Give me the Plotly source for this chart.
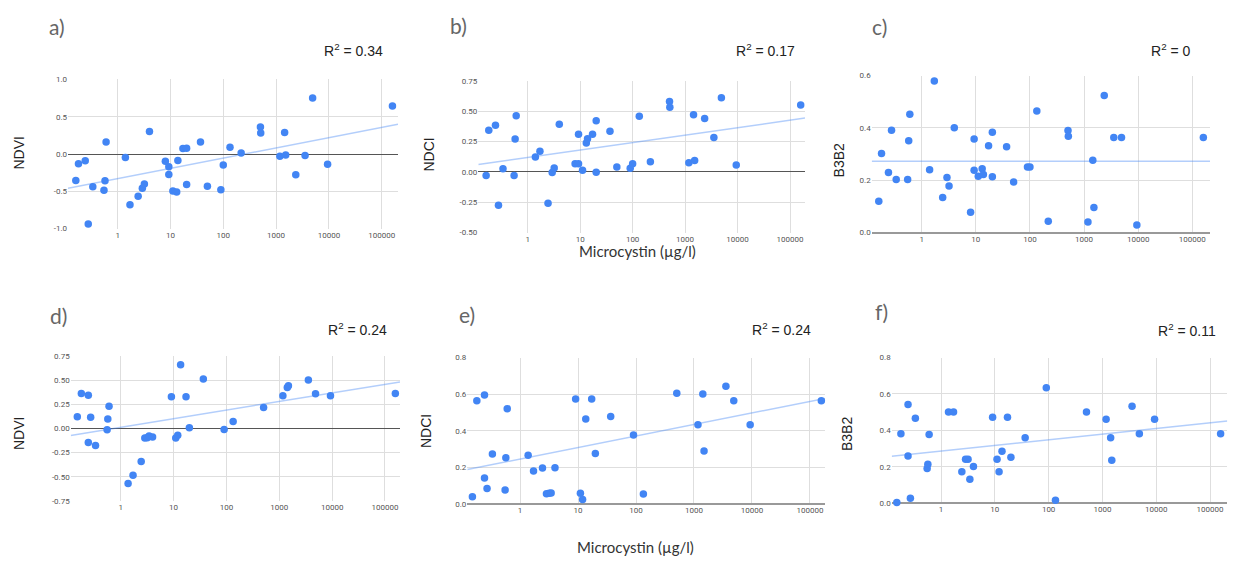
import numpy as np
import plotly.graph_objects as go

W, H = 1233, 563

# ---------------- data ----------------
microcystin_top = [0.161, 0.181, 0.243, 0.277, 0.338, 0.55, 0.575, 0.603, 1.40, 1.71,
                   2.44, 2.93, 3.2, 4.0, 8.0, 9.3, 9.3, 11.1, 13.1, 13.8,
                   17.2, 20.2, 20.2, 37, 50, 90, 100, 134, 218, 505,
                   512, 1180, 1450, 1520, 2360, 3540, 4920, 9450, 160000]
ndvi_a = [-0.354, -0.13, -0.09, -0.939, -0.437, -0.486, -0.358, 0.16, -0.046, -0.679,
          -0.565, -0.459, -0.402, 0.301, -0.095, -0.169, -0.275, -0.495, -0.508, -0.086,
          0.073, 0.077, -0.407, 0.16, -0.433, -0.477, -0.147, 0.09, 0.015, 0.363,
          0.284, -0.029, 0.288, -0.011, -0.279, -0.02, 0.75, -0.138, 0.644]
ndci_b = [-0.03, 0.344, 0.385, -0.275, 0.027, -0.03, 0.271, 0.463, 0.124, 0.17,
          -0.257, -0.005, 0.032, 0.393, 0.068, 0.068, 0.312, 0.014, 0.239, 0.274,
          0.312, 0.423, -0.003, 0.336, 0.041, 0.03, 0.068, 0.46, 0.084, 0.582,
          0.533, 0.076, 0.471, 0.095, 0.441, 0.285, 0.612, 0.057, 0.552]
b3b2_c = [0.120, 0.302, 0.230, 0.391, 0.203, 0.203, 0.351, 0.452, 0.240, 0.579,
          0.134, 0.210, 0.178, 0.401, 0.078, 0.238, 0.358, 0.215, 0.244, 0.222,
          0.332, 0.383, 0.213, 0.328, 0.193, 0.251, 0.251, 0.465, 0.043, 0.390,
          0.368, 0.040, 0.276, 0.096, 0.524, 0.363, 0.363, 0.029, 0.363]

microcystin_bottom = [0.151, 0.18, 0.244, 0.244, 0.27, 0.334, 0.553, 0.57, 0.602, 1.38,
                      1.71, 2.44, 2.86, 3.18, 3.44, 4.01, 9.1, 11.0, 12.0, 13.6,
                      17.2, 19.9, 36.6, 90.5, 134, 505, 1170, 1420, 1490, 3550,
                      4850, 9300, 157000]
ndvi_d = [0.122, 0.363, 0.343, -0.146, 0.115, -0.176, -0.014, 0.098, 0.231, -0.570,
          -0.485, -0.343, -0.098, -0.095, -0.078, -0.088, 0.329, -0.098, -0.071, 0.658,
          0.329, 0.007, 0.512, -0.010, 0.071, 0.217, 0.339, 0.424, 0.441, 0.502,
          0.360, 0.339, 0.363]
ndci_e = [0.041, 0.564, 0.596, 0.143, 0.086, 0.274, 0.077, 0.254, 0.521, 0.267,
          0.181, 0.197, 0.057, 0.059, 0.061, 0.199, 0.574, 0.059, 0.025, 0.465,
          0.574, 0.277, 0.478, 0.378, 0.055, 0.605, 0.433, 0.601, 0.290, 0.644,
          0.564, 0.433, 0.564]
b3b2_f = [0.004, 0.382, 0.542, 0.259, 0.027, 0.467, 0.191, 0.214, 0.378, 0.501,
          0.501, 0.173, 0.241, 0.241, 0.132, 0.202, 0.472, 0.241, 0.173, 0.286,
          0.472, 0.252, 0.359, 0.634, 0.016, 0.501, 0.461, 0.359, 0.236, 0.532,
          0.382, 0.461, 0.382]

panel_letters = ["a)", "b)", "c)", "d)", "e)", "f)"]
r2_labels = ["0.34", "0.17", "0", "0.24", "0.24", "0.11"]
y_titles = ["NDVI", "NDCI", "B3B2", "NDVI", "NDCI", "B3B2"]
x_title = "Microcystin (µg/l)"
x_tick_vals = [1, 10, 100, 1000, 10000, 100000]
x_tick_text = ["1", "10", "100", "1000", "10000", "100000"]
y_ticks = [
    ([-1, -0.5, 0, 0.5, 1], ["-1.0", "-0.5", "0.0", "0.5", "1.0"]),
    ([-0.5, -0.25, 0, 0.25, 0.5, 0.75], ["-0.50", "-0.25", "0.00", "0.25", "0.50", "0.75"]),
    ([0, 0.2, 0.4, 0.6], ["0.0", "0.2", "0.4", "0.6"]),
    ([-0.75, -0.5, -0.25, 0, 0.25, 0.5, 0.75], ["-0.75", "-0.50", "-0.25", "0.00", "0.25", "0.50", "0.75"]),
    ([0, 0.2, 0.4, 0.6, 0.8], ["0.0", "0.2", "0.4", "0.6", "0.8"]),
    ([0, 0.2, 0.4, 0.6, 0.8], ["0.0", "0.2", "0.4", "0.6", "0.8"]),
]
series = [
    (microcystin_top, ndvi_a), (microcystin_top, ndci_b), (microcystin_top, b3b2_c),
    (microcystin_bottom, ndvi_d), (microcystin_bottom, ndci_e), (microcystin_bottom, b3b2_f),
]

# ---------------- layout geometry (pixels) ----------------
# left, right, top, bottom of plot area; log10 x-range
geom = [
    dict(l=68, r=398, t=76.7, b=228.3, xr=[-0.941, 5.309]),
    dict(l=478.3, r=805, t=78.3, b=232.3, xr=[-0.942, 5.286]),
    dict(l=871.7, r=1210, t=72.7, b=232.3, xr=[-0.924, 5.327]),
    dict(l=70.7, r=400, t=357.7, b=505, xr=[-0.946, 5.284]),
    dict(l=467.3, r=825, t=359.3, b=508.3, xr=[-0.909, 5.259]),
    dict(l=891.7, r=1227.3, t=359.3, b=507.3, xr=[-0.916, 5.32]),
]
letter_pos = [(47, 23), (448, 22), (870, 23), (48, 317), (457, 316), (873, 313)]
r2_pos = [(385, 47), (797, 47), (1193, 47), (389, 330), (813, 330), (1218, 331)]
ytitle_pos = [(19, 152), (429, 153), (839, 159), (19, 437), (426, 434), (847, 437)]
xtitle_pos = [(637, 251), (635, 552)]

BLUE = "#4285F4"
TREND = "rgba(66,133,244,0.40)"
GRID = "#dedede"

fig = go.Figure()
annotations = []

def px(x):
    return x / W

def py(y):
    return 1 - y / H

for i, ((xs, ys), g) in enumerate(zip(series, geom)):
    n = i + 1
    xa = "x" if n == 1 else f"x{n}"
    ya = "y" if n == 1 else f"y{n}"
    xs_arr = np.array(xs, dtype=float)
    ys_arr = np.array(ys, dtype=float)
    slope, intercept = np.polyfit(np.log10(xs_arr), ys_arr, 1)
    tx = np.array([10 ** g["xr"][0], 10 ** g["xr"][1]])
    ty = intercept + slope * np.log10(tx)
    fig.add_trace(go.Scatter(x=tx, y=ty, mode="lines", xaxis=xa, yaxis=ya,
                             line=dict(color=TREND, width=1.5), hoverinfo="skip",
                             showlegend=False))
    fig.add_trace(go.Scatter(x=xs, y=ys, mode="markers", xaxis=xa, yaxis=ya,
                             marker=dict(color=BLUE, size=7.5, line=dict(width=0)),
                             cliponaxis=False, showlegend=False))
    tv, tt = y_ticks[i]
    zero_at_bottom = tv[0] == 0
    fig.layout[f"xaxis{'' if n == 1 else n}"] = dict(
        type="log", range=g["xr"], domain=[px(g["l"]), px(g["r"])], anchor=ya,
        tickvals=x_tick_vals, ticktext=x_tick_text, showgrid=True, gridcolor=GRID,
        gridwidth=1, zeroline=False, showline=False, ticks="",
        tickfont=dict(family="Roboto", size=8, color="#555555"), fixedrange=True)
    fig.layout[f"yaxis{'' if n == 1 else n}"] = dict(
        range=[tv[0], tv[-1]], domain=[py(g["b"]), py(g["t"])], anchor=xa,
        tickvals=tv, ticktext=tt, showgrid=True, gridcolor=GRID, gridwidth=1,
        zeroline=True, zerolinecolor="#999999" if zero_at_bottom else "#555555",
        zerolinewidth=2 if zero_at_bottom else 1.2, showline=False, ticks="",
        tickfont=dict(family="Roboto", size=8, color="#555555"), fixedrange=True)

    lx, ly = letter_pos[i]
    annotations.append(dict(text=panel_letters[i], x=px(lx), y=py(ly), xref="paper", yref="paper",
                            xanchor="left", yanchor="middle", showarrow=False,
                            font=dict(family="Lato", size=21, color="#666666")))
    rx, ry = r2_pos[i]
    annotations.append(dict(text=f"R<sup>2</sup> = {r2_labels[i]}", x=px(rx), y=py(ry),
                            xref="paper", yref="paper", xanchor="right", yanchor="middle",
                            showarrow=False,
                            font=dict(family="Liberation Sans", size=14, color="#222222")))
    tx_, ty_ = ytitle_pos[i]
    annotations.append(dict(text=y_titles[i], x=px(tx_), y=py(ty_), xref="paper", yref="paper",
                            xanchor="center", yanchor="middle", textangle=-90, showarrow=False,
                            font=dict(family="Liberation Sans", size=14, color="#222222")))

for (mx, my) in xtitle_pos:
    annotations.append(dict(text=x_title, x=px(mx), y=py(my), xref="paper", yref="paper",
                            xanchor="center", yanchor="middle", showarrow=False,
                            font=dict(family="Lato", size=15, color="#333333")))

fig.update_layout(width=W, height=H, autosize=False,
                  margin=dict(l=0, r=0, t=0, b=0),
                  paper_bgcolor="white", plot_bgcolor="white",
                  annotations=annotations, showlegend=False)

fig.write_html("out.html", config={"displayModeBar": False},
               post_script="document.body.style.margin='0';document.body.style.overflow='hidden';")
